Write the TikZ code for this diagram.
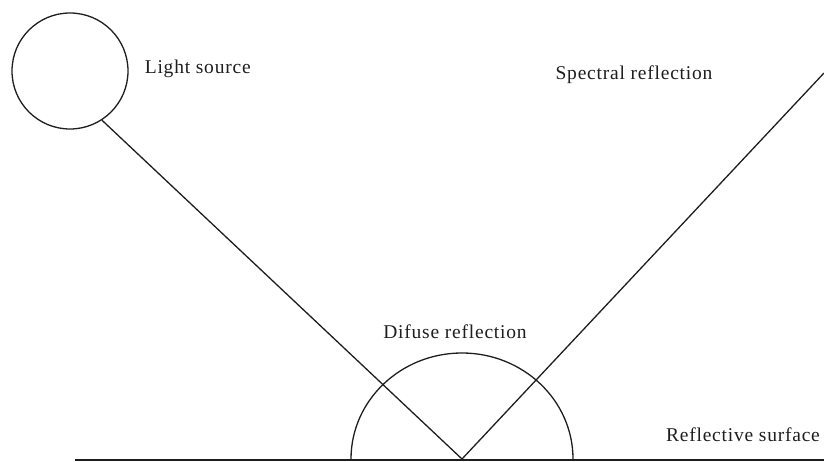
\documentclass[tikz,border=0pt]{standalone}
\usepackage{fontspec}
\setmainfont{Liberation Serif}[LetterSpace=4]
\usetikzlibrary{positioning}
\definecolor{inkgray}{RGB}{30,30,30}
\tikzset{
  ray line/.style={draw=inkgray, line width=1.3pt},
  source disc/.style={
    circle, draw=inkgray, line width=1.3pt,
    minimum size=116pt, inner sep=0pt
  },
  scene label/.style={
    text=inkgray, inner sep=0pt,
    font=\fontsize{19.5}{23}\selectfont
  }
}

\begin{document}
\begin{tikzpicture}[x=1pt, y=-1pt, node distance=16pt]
    \useasboundingbox (0,0) rectangle (824,462);
    \node[source disc] (lightsrc) at (70,71) {};
    \node[scene label, right=of lightsrc, yshift=2pt] (lightlbl) {Light source};
    \coordinate (hit) at (462,459);
    \coordinate (surfleft) at (75,460);
    \coordinate (surfright) at (824,460);
    \coordinate (specend) at (824,73);
    \node[scene label] (speclbl) at (634,75) {Spectral reflection};
    \node[scene label] (difflbl) at (455,332) {Difuse reflection};
    \node[scene label] (surflbl) at (743,435) {Reflective surface};
    % surface and diffuse dome
    \draw[ray line] (surfleft) -- (surfright);
    \draw[ray line] ([xshift=111pt]hit) arc[start angle=0, end angle=180, x radius=111pt, y radius=106pt];
    % incoming and reflected ray
    \draw[ray line] (lightsrc.-57) -- (hit);
    \draw[ray line] (hit) -- (specend);
  \end{tikzpicture}
\end{document}
